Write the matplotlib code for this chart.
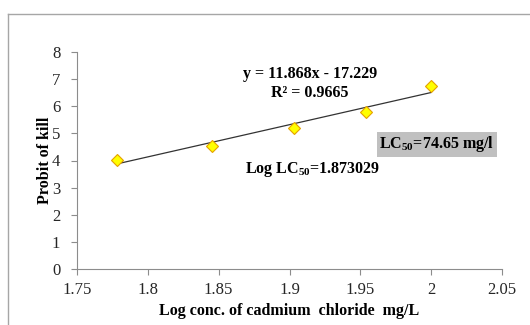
import numpy as np
import matplotlib.pyplot as plt
from matplotlib.lines import Line2D

# data
log_conc = [1.778, 1.845, 1.903, 1.954, 2.0]
probit = [4.03, 4.55, 5.19, 5.78, 6.76]
slope = 11.868
intercept = -17.229
x_ticks = [1.75, 1.8, 1.85, 1.9, 1.95, 2.0, 2.05]
x_tick_labels = ["1.75", "1.8", "1.85", "1.9", "1.95", "2", "2.05"]
y_ticks = [0, 1, 2, 3, 4, 5, 6, 7, 8]


def main():
    plt.rcParams["font.family"] = ["Liberation Serif", "DejaVu Serif"]
    plt.rcParams["mathtext.fontset"] = "custom"
    plt.rcParams["mathtext.rm"] = "Liberation Serif:bold"
    plt.rcParams["mathtext.it"] = "Liberation Serif:bold"
    plt.rcParams["mathtext.bf"] = "Liberation Serif:bold"

    fig = plt.figure(figsize=(5.3, 3.25), dpi=100)

    # outer chart-area border (only left and top visible)
    fig.add_artist(Line2D([8 / 530, 8 / 530], [0, 1 - 14 / 325],
                          transform=fig.transFigure, color="#a6a6a6", lw=1))
    fig.add_artist(Line2D([8 / 530, 1], [1 - 14 / 325, 1 - 14 / 325],
                          transform=fig.transFigure, color="#a6a6a6", lw=1))

    ax = fig.add_axes([77 / 530, 1 - 269 / 325, 425 / 530, 217 / 325])

    fit_x = np.array([log_conc[0], log_conc[-1]])
    ax.plot(fit_x, slope * fit_x + intercept, color="#333333", lw=0.9, zorder=2)
    ax.plot(log_conc, probit, linestyle="none", marker="D", markersize=6.5,
            markerfacecolor="#ffff00", markeredgecolor="#e5a000",
            markeredgewidth=0.8, zorder=3)

    ax.set_xlim(1.75, 2.05)
    ax.set_ylim(0, 8)
    ax.set_xticks(x_ticks)
    ax.set_xticklabels(x_tick_labels)
    ax.set_yticks(y_ticks)
    ax.tick_params(labelsize=12, length=4, color="#8c8c8c", width=0.8,
                   labelcolor="#262626")
    ax.tick_params(axis="x", pad=5)
    ax.tick_params(axis="y", pad=8)

    for side in ["top", "right"]:
        ax.spines[side].set_visible(False)
    for side in ["left", "bottom"]:
        ax.spines[side].set_color("#8c8c8c")
        ax.spines[side].set_linewidth(0.8)

    ax.set_xlabel("Log conc. of cadmium  chloride  mg/L", fontsize=11.5,
                  fontweight="bold", labelpad=4)
    ax.set_ylabel("Probit of kill", fontsize=11.5, fontweight="bold", labelpad=-1)

    ax.text(1.9145, 7.2, "y = 11.868x - 17.229", ha="center", va="center",
            fontsize=11.5, fontweight="bold")
    ax.text(1.9145, 6.5, "R² = 0.9665", ha="center", va="center",
            fontsize=11.5, fontweight="bold")
    ax.text(1.916, 3.65, "Log LC$_{50}$=1.873029", ha="center", va="center",
            fontsize=11.5, fontweight="bold")
    ax.text(2.004, 4.6, "LC$_{50}$=74.65 mg/l", ha="center", va="center",
            fontsize=11.5, fontweight="bold",
            bbox=dict(facecolor="#c0c0c0", edgecolor="none", pad=2))

    fig.savefig("out.png", dpi=100)
    plt.close(fig)


if __name__ == "__main__":
    main()
